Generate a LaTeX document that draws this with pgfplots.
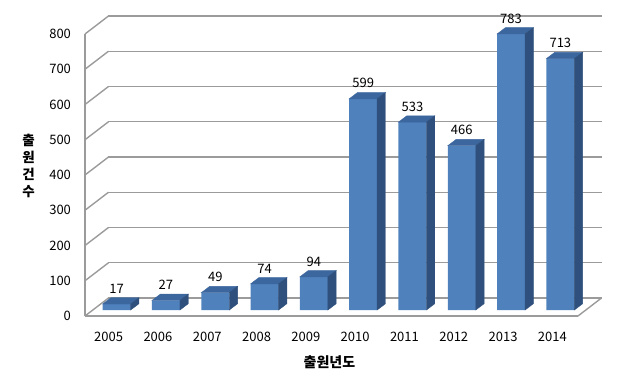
\documentclass[border=0pt]{standalone}
\usepackage{fontspec}
\setmainfont{Noto Sans CJK KR}
\usepackage{pgfplots}
\pgfplotsset{compat=1.18}
\usepackage{pgfplotstable}

\definecolor{barfront}{RGB}{79,129,189}
\definecolor{bartop}{RGB}{60,102,158}
\definecolor{barside}{RGB}{47,80,124}
\definecolor{gridgray}{RGB}{155,155,155}

\pgfplotstableread{
idx year value
0 2005 17
1 2006 27
2 2007 49
3 2008 74
4 2009 94
5 2010 599
6 2011 533
7 2012 466
8 2013 783
9 2014 713
}\datatable

\pgfdeclareplotmark{nothing}{}

\begin{document}
\begin{tikzpicture}[font=\fontsize{13}{15}\selectfont]
\path[use as bounding box] (-85pt,-65pt) rectangle (534pt,316pt);

\pgfplotsset{base/.style={scale only axis, width=493pt, height=282pt,
  xmin=-0.48, xmax=9.52, ymin=0, ymax=800,
  /pgf/number format/assume math mode=true}}

% back wall with gridlines
\begin{axis}[base, at={(23.5pt,18pt)}, anchor=south west,
  axis line style={draw=none}, ytick={0,100,...,800}, yticklabels={},
  xtick=\empty, major tick length=0pt, ymajorgrids,
  grid style={gridgray, line width=1.4pt}]
\addplot[draw=none] coordinates {(0,0)};
\end{axis}

% front frame, ticks and labels
\begin{axis}[base, at={(0pt,0pt)}, anchor=south west, clip=false,
  axis lines=left,
  axis line style={gridgray, line width=1.4pt},
  every inner x axis line/.append style={-},
  every inner y axis line/.append style={-},
  every outer x axis line/.append style={-},
  every outer y axis line/.append style={-},
  ytick={0,100,...,800},
  xtick={0,...,9},
  xticklabels={2005,2006,2007,2008,2009,2010,2011,2012,2013,2014},
  major tick length=0pt,
  yticklabel style={anchor=east, xshift=-10.5pt, text=black},
  xticklabel style={anchor=center, yshift=-21pt, text=black},
  xlabel={출원년도},
  ylabel={출\\원\\건\\수},
  every axis x label/.style={at={(axis description cs:0.5,0)}, anchor=center,
    yshift=-46.5pt, xshift=-2pt, font=\fontsize{14}{16}\selectfont\bfseries},
  every axis y label/.style={at={(axis description cs:0,0.5)}, anchor=center,
    xshift=-56.3pt, yshift=9pt, align=center,
    font=\fontsize{13.5}{17.2}\selectfont\bfseries},
]
\addplot[draw=none] coordinates {(0,0)};
\pgfplotsinvokeforeach{0,100,200,300,400,500,600,700,800}{
  \draw[gridgray, line width=1.4pt] (axis cs:-0.48,#1) -- ++(23.5pt,18pt);
}
\draw[gridgray, line width=1.4pt] (axis cs:9.52,0) -- ++(23.5pt,18pt);
\end{axis}

% bars
\begin{axis}[base, at={(8pt,6pt)}, anchor=south west, hide axis, clip=false]
\addplot[ybar, bar width=28pt, bar shift=0pt, fill=barfront, draw=none,
  nodes near coords,
  nodes near coords style={anchor=center, yshift=15.5pt, text=black,
    font=\fontsize{13}{15}\selectfont}]
  table[x=idx, y=value] {\datatable};
\addplot[scatter, only marks, mark=nothing,
  visualization depends on={rawy \as \myv},
  scatter/@pre marker code/.code={%
    \fill[bartop] (-14pt,0pt) -- (14pt,0pt) -- (22.3pt,6.3pt) -- (-5.7pt,6.3pt) -- cycle;
    \fill[barside] (14pt,0pt) -- ++(8.3pt,6.3pt) -- ++(axis direction cs:0,-\myv) -- ++(-8.3pt,-6.3pt) -- cycle;
  },
  scatter/@post marker code/.code={}]
  table[x=idx, y=value] {\datatable};
\end{axis}
\end{tikzpicture}
\end{document}
